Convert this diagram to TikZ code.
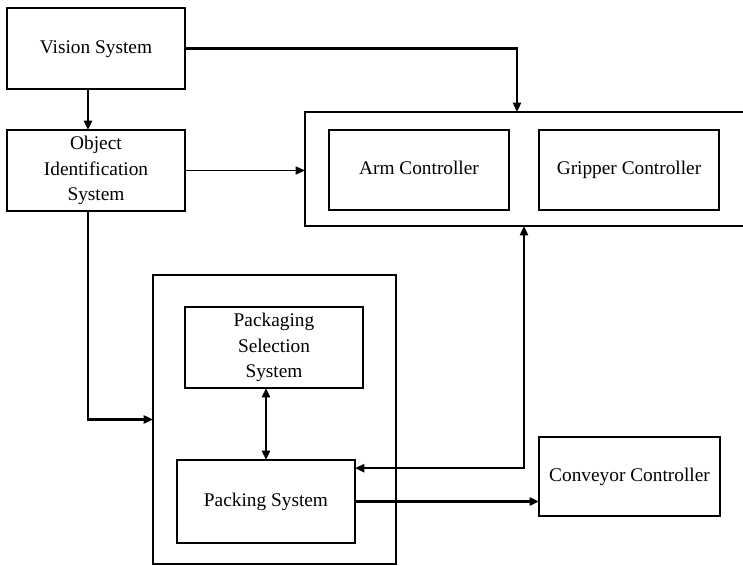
\documentclass[tikz,border=0pt]{standalone}
\usepackage{fontspec}
\setmainfont{Liberation Serif}
\usetikzlibrary{arrows.meta}
\begin{document}
\begin{tikzpicture}[x=0.75pt,y=-0.75pt,
  blkbase/.style={draw,line width=1.6pt,inner sep=0pt,outer sep=0pt,
    font=\fontsize{14.5}{19}\selectfont},
  blk/.style={blkbase,align=center},
  oneline/.style={blkbase,text height=0.68em,text depth=0pt},
  frame/.style={draw,line width=1.2pt,inner sep=0pt,outer sep=0pt},
  tip/.style={-{Triangle[length=7pt,width=6pt]}},
  link/.style={line width=2.2pt,tip},
  thinlink/.style={line width=1.2pt,tip},
  twoway/.style={line width=2pt,{Triangle[length=7pt,width=6pt]}-{Triangle[length=7pt,width=6pt]}}]
\clip (0,0) rectangle (743,566);
\fill[white] (0,0) rectangle (743,566);

% sensing side
\node[oneline,minimum width=133.5pt,minimum height=60.75pt] (vis) at (96,48.5) {Vision System};
\node[blk,minimum width=133.5pt,minimum height=60.75pt] (oid) at (96,170.5) {Object\\Identification\\System};

% robot controllers group
\node[frame,line width=2pt,minimum width=341.25pt,minimum height=85.5pt] (ctl) at (532.5,169) {};
\node[oneline,minimum width=135pt,minimum height=60pt] (arm) at (419,170) {Arm Controller};
\node[oneline,minimum width=135pt,minimum height=60pt] (grip) at (629,170) {Gripper Controller};

% packing group
\node[frame,minimum width=182.25pt,minimum height=216.75pt] (pk) at (274.5,419.5) {};
\draw[line width=2pt] (pk.north west) -- (pk.north east);
\node[blk,minimum width=133.5pt,minimum height=60.75pt] (sel) at (274,347.5) {Packaging\\Selection\\System};
\node[oneline,minimum width=133.5pt,minimum height=62.25pt] (pack) at (266,501.5) {Packing System};

\node[oneline,minimum width=135.75pt,minimum height=59.25pt] (conv) at (629.5,476.5) {Conveyor Controller};

% drop points on the controller group
\coordinate (vdrop) at (517,112);
\coordinate (adrop) at (524,226);

% connectors
\draw[link] ([xshift=-6pt]vis.south) -- ([xshift=-6pt]oid.north);
\draw[link] (vis.east) -| (vdrop);
\draw[thinlink] (oid.east) -- (oid.east -| ctl.west);
\draw[link] ([xshift=-6pt]oid.south) |- (pk.west);
\draw[twoway] (pack.north |- sel.south) -- (pack.north);
\draw[twoway] (adrop) |- ([yshift=25pt]pack.east);
\draw[link] (pack.east) -- (pack.east -| conv.west);
\end{tikzpicture}
\end{document}
